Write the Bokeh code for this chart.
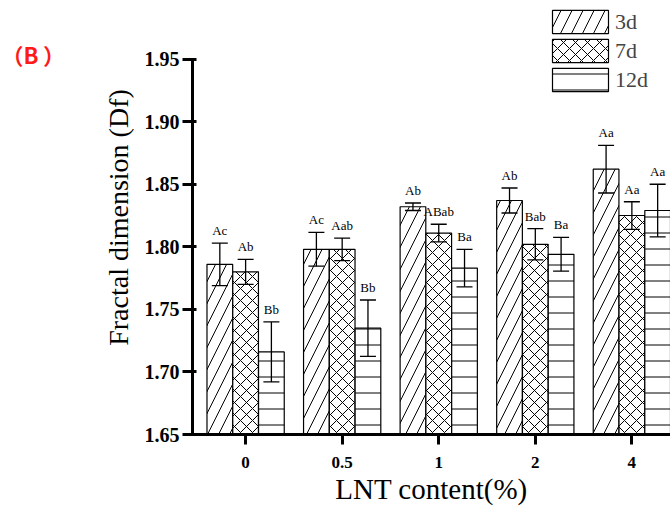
from bokeh.plotting import figure
from bokeh.models import (Range1d, FixedTicker, NumeralTickFormatter, ColumnDataSource,
                          Whisker, TeeHead, LabelSet, Legend, LegendItem, Label)
from bokeh.transform import dodge
from bokeh.embed import file_html
from bokeh.resources import INLINE

categories = ["0", "0.5", "1", "2", "4"]
series = ["3d", "7d", "12d"]

vals_3d = [1.786, 1.798, 1.832, 1.837, 1.862]
err_3d = [0.017, 0.0135, 0.003, 0.010, 0.019]
lab_3d = ["Ac", "Ac", "Ab", "Ab", "Aa"]

vals_7d = [1.780, 1.798, 1.811, 1.802, 1.825]
err_7d = [0.010, 0.009, 0.007, 0.0125, 0.011]
lab_7d = ["Ab", "Aab", "ABab", "Bab", "Aa"]

vals_12d = [1.716, 1.735, 1.783, 1.794, 1.829]
err_12d = [0.024, 0.0225, 0.015, 0.0135, 0.021]
lab_12d = ["Bb", "Bb", "Ba", "Ba", "Aa"]

y_ticks = [1.65, 1.70, 1.75, 1.80, 1.85, 1.90, 1.95]

data = {"3d": (vals_3d, err_3d, lab_3d),
        "7d": (vals_7d, err_7d, lab_7d),
        "12d": (vals_12d, err_12d, lab_12d)}
patterns = {"3d": "/", "7d": "x", "12d": "-"}
hscale = {"3d": 22, "7d": 12, "12d": 16}
offsets = {"3d": -0.267, "7d": 0.0, "12d": 0.267}
BASE = 1.65
TOP = 1.95
BW = 0.266

# frame reaches the top of the canvas so the legend is not clipped;
# the y axis line itself is bounded to 1.65..1.95
p = figure(width=670, height=507, output_backend="svg", toolbar_location=None,
           x_range=Range1d(-0.55, 4.40), y_range=Range1d(BASE, TOP + 59 / 1260),
           min_border_left=192, min_border_right=0, min_border_top=0, min_border_bottom=70)
p.outline_line_color = None
p.xgrid.visible = False
p.ygrid.visible = False
p.background_fill_color = "white"
p.border_fill_color = "white"

items = []
for s in series:
    v, e, lab = data[s]
    src = ColumnDataSource(dict(
        xi=list(range(len(categories))), top=v,
        upper=[a + b for a, b in zip(v, e)], lower=[a - b for a, b in zip(v, e)],
        lab=lab))
    r = p.vbar(x=dodge("xi", offsets[s]), top="top", bottom=BASE, width=BW, source=src,
               fill_color="white", line_color="black", line_width=1.2,
               hatch_pattern=patterns[s], hatch_color="black", hatch_weight=1,
               hatch_scale=hscale[s])
    items.append(LegendItem(label=s, renderers=[r]))
    w = Whisker(base=dodge("xi", offsets[s]), upper="upper", lower="lower", source=src,
                dimension="height", line_color="black", line_width=1.3, level="overlay",
                upper_head=TeeHead(size=16, line_width=1.3, line_color="black"),
                lower_head=TeeHead(size=16, line_width=1.3, line_color="black"))
    p.add_layout(w)
    ls = LabelSet(x=dodge("xi", offsets[s]), y="upper", text="lab", source=src,
                  y_offset=5, text_align="center", text_baseline="bottom",
                  text_font="Liberation Serif", text_font_size="13px", text_color="black")
    p.add_layout(ls)

# axes
p.xaxis.ticker = FixedTicker(ticks=list(range(len(categories))))
p.xaxis.major_label_overrides = {i: c for i, c in enumerate(categories)}
p.xaxis.minor_tick_line_color = None
p.yaxis.minor_tick_line_color = None
p.yaxis.ticker = FixedTicker(ticks=y_ticks)
p.yaxis.formatter = NumeralTickFormatter(format="0.00")
p.yaxis.bounds = (BASE, TOP)
for ax in (p.xaxis, p.yaxis):
    ax.axis_line_width = 3
    ax.axis_line_color = "black"
    ax.major_tick_line_width = 3
    ax.major_tick_line_color = "black"
    ax.major_tick_out = 10
    ax.major_label_text_font = "Liberation Serif"
    ax.major_label_text_font_style = "bold"
    ax.major_label_text_color = "black"
    ax.axis_label_text_font = "Liberation Serif"
    ax.axis_label_text_font_style = "normal"
    ax.axis_label_text_color = "black"
p.xaxis.major_tick_in = 0
p.yaxis.major_tick_in = 4
p.xaxis.major_label_text_font_size = "17px"
p.yaxis.major_label_text_font_size = "20px"
p.xaxis.major_label_standoff = 12
p.yaxis.major_label_standoff = 3
p.xaxis.axis_label = "LNT content(%)"
p.yaxis.axis_label = "Fractal dimension (Df)"
p.xaxis.axis_label_text_font_size = "29px"
p.yaxis.axis_label_text_font_size = "28px"
p.xaxis.axis_label_standoff = 2
p.yaxis.axis_label_standoff = 8

legend = Legend(items=items, location=(353, 340), orientation="vertical",
                glyph_width=70, glyph_height=29, label_height=29, spacing=0,
                padding=0, margin=0, border_line_color=None, background_fill_alpha=0,
                label_text_font="Liberation Serif", label_text_font_size="22px",
                label_standoff=0, label_text_baseline="middle")
p.add_layout(legend)

tag = Label(x=1, y=53, x_units="canvas", y_units="canvas", text="（B\u2009）",
            text_color="#ff1a1a", text_font="Noto Sans CJK SC", text_font_style="bold",
            text_font_size="22px", text_baseline="middle")
p.add_layout(tag, "left")

open("out.html", "w").write(file_html(p, INLINE))
